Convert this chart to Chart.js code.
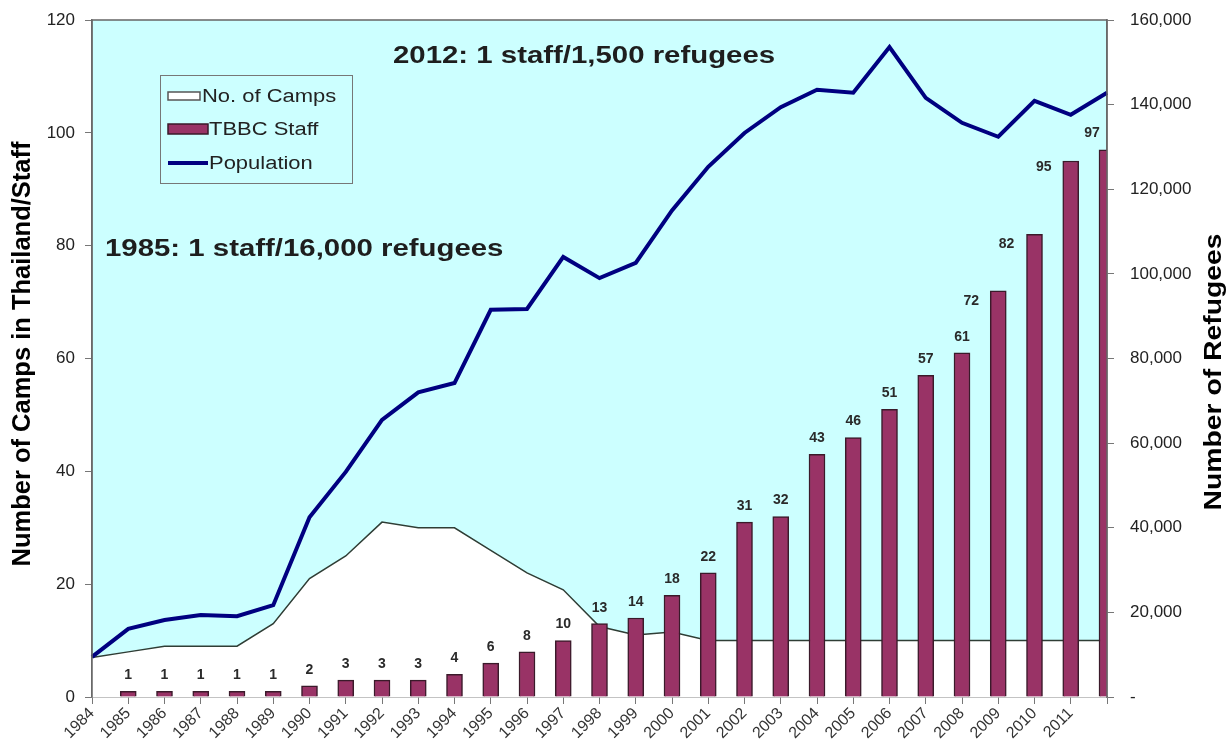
<!DOCTYPE html>
<html>
<head>
<meta charset="utf-8">
<script src="https://cdn.jsdelivr.net/npm/chart.js@4"></script>
<style>
  body { margin: 0; background: #fff; }
</style>
</head>
<body>
<canvas id="tbbc-chart" width="1229" height="747"></canvas>
<script>
var years = ["1984","1985","1986","1987","1988","1989","1990","1991","1992","1993",
             "1994","1995","1996","1997","1998","1999","2000","2001","2002","2003",
             "2004","2005","2006","2007","2008","2009","2010","2011","2012"];

// left axis
var camps = [7, 8, 9, 9, 9, 13, 21, 25, 31, 30,
             30, 26, 22, 19, 12.5, 11, 11.5, 10, 10, 10,
             10, 10, 10, 10, 10, 10, 10, 10, 10];
var staff = [null, 1, 1, 1, 1, 1, 2, 3, 3, 3,
             4, 6, 8, 10, 13, 14, 18, 22, 31, 32,
             43, 46, 51, 57, 61, 72, 82, 95, 97];

// right axis
var population = [9500, 16100, 18200, 19400, 19100, 21700, 42500, 53200, 65500, 72000,
                  74200, 91500, 91700, 104000, 99000, 102600, 115000, 125300, 133300, 139400,
                  143500, 142800, 153600, 141600, 135700, 132400, 140900, 137600, 142800];

var notes = ["2012: 1 staff/1,500 refugees", "1985: 1 staff/16,000 refugees"];

var FONT = "'Liberation Sans', Arial, sans-serif";

// text drawn a bit wide, like the original slide
function wideText(c, txt, x, y, font, sx, angle) {
    c.save();
    c.translate(x, y);
    if (angle) c.rotate(angle);
    c.scale(sx, 1);
    c.font = font;
    c.fillText(txt, 0, 0);
    c.restore();
}

// plot background + frame
var plotBg = {
    id: 'plotBg',
    beforeDraw: function(chart) {
        var a = chart.chartArea, c = chart.ctx;
        c.save();
        c.fillStyle = '#ccffff';
        c.fillRect(a.left, a.top, a.right - a.left, a.bottom - a.top);
        c.restore();
    },
    afterDraw: function(chart) {
        var a = chart.chartArea, c = chart.ctx;
        c.save();
        c.strokeStyle = '#666';
        c.lineWidth = 1.5;
        c.beginPath();
        c.moveTo(a.left, a.bottom);
        c.lineTo(a.left, a.top);
        c.lineTo(a.right, a.top);
        c.lineTo(a.right, a.bottom);
        c.stroke();
        c.restore();
    }
};

// value labels over the staff bars (a few were nudged left in the original)
var barLabels = {
    id: 'barLabels',
    afterDatasetsDraw: function(chart) {
        var nudge = { "2009": [-27, 26], "2010": [-28, 26], "2011": [-27, 22], "2012": [-15, -1] };
        var c = chart.ctx;
        var meta = chart.getDatasetMeta(1);
        c.save();
        c.font = 'bold 14px ' + FONT;
        c.fillStyle = '#2a2a2a';
        c.textAlign = 'center';
        c.textBaseline = 'middle';
        meta.data.forEach(function(bar, i) {
            var v = staff[i];
            if (v === null) return;
            var d = nudge[years[i]] || [0, 0];
            c.fillText(String(v), bar.x + d[0], bar.y - 16 + d[1]);
        });
        c.restore();
    }
};

// legend box, notes and axis titles
var extras = {
    id: 'extras',
    afterDraw: function(chart) {
        var c = chart.ctx;
        c.save();
        // legend
        c.strokeStyle = '#777';
        c.lineWidth = 1;
        c.strokeRect(160.5, 75.5, 192, 108);
        var rows = [96, 129, 163];
        chart.data.datasets.forEach(function(ds, i) {
            var y = rows[i];
            var tx = 209;
            if (i === 2) {
                c.strokeStyle = ds.borderColor;
                c.lineWidth = 4;
                c.beginPath();
                c.moveTo(168, y);
                c.lineTo(208, y);
                c.stroke();
            } else if (i === 0) {
                c.fillStyle = '#ffffff';
                c.fillRect(168, y - 4, 32, 8);
                c.strokeStyle = '#555';
                c.lineWidth = 1.5;
                c.strokeRect(168, y - 4, 32, 8);
                tx = 202;
            } else {
                c.fillStyle = ds.backgroundColor;
                c.fillRect(168, y - 5, 40, 10);
                c.strokeStyle = ds.borderColor;
                c.lineWidth = 1.5;
                c.strokeRect(168, y - 5, 40, 10);
            }
            c.fillStyle = '#222';
            c.textAlign = 'left';
            c.textBaseline = 'middle';
            wideText(c, ds.label, tx, y + 1, '18px ' + FONT, 1.22);
        });

        // notes
        c.fillStyle = '#1e1e1e';
        c.textAlign = 'left';
        c.textBaseline = 'middle';
        wideText(c, notes[0], 393, 57, 'bold 23.5px ' + FONT, 1.25);
        wideText(c, notes[1], 105, 250, 'bold 23.5px ' + FONT, 1.25);

        // axis titles
        c.fillStyle = '#000';
        c.textAlign = 'center';
        wideText(c, 'Number of Camps in Thailand/Staff', 23, 354, 'bold 25.5px ' + FONT, 1, -Math.PI / 2);
        wideText(c, 'Number of Refugees', 1214, 372, 'bold 24px ' + FONT, 1.18, -Math.PI / 2);
        c.restore();
    }
};

function fixWidth(w) {
    return function(s) {
        s.width = w;
        s.paddingTop = 0;
        s.paddingBottom = 0;
    };
}

new Chart(document.getElementById('tbbc-chart'), {
    type: 'bar',
    data: {
        labels: years,
        datasets: [
            {
                type: 'line',
                label: 'No. of Camps',
                data: camps,
                yAxisID: 'y',
                borderColor: '#2f3d35',
                borderWidth: 1.5,
                backgroundColor: '#ffffff',
                fill: 'origin',
                pointRadius: 0,
                tension: 0,
                order: 3
            },
            {
                label: 'TBBC Staff',
                data: staff,
                yAxisID: 'y',
                backgroundColor: '#993366',
                borderColor: '#3a1a2a',
                borderWidth: 1.5,
                barThickness: 16,
                order: 2
            },
            {
                type: 'line',
                label: 'Population',
                data: population,
                yAxisID: 'y1',
                borderColor: '#000080',
                borderWidth: 4,
                pointRadius: 0,
                tension: 0,
                fill: false,
                order: 1
            }
        ]
    },
    options: {
        responsive: false,
        animation: false,
        layout: { padding: { top: 20, left: 0, right: 0, bottom: 0 } },
        plugins: {
            legend: { display: false },
            tooltip: { enabled: false }
        },
        scales: {
            x: {
                offset: false,
                grid: { offset: false, drawOnChartArea: false, tickLength: 7, color: '#777' },
                border: { color: '#888', width: 1.5 },
                ticks: {
                    autoSkip: false,
                    minRotation: 45,
                    maxRotation: 45,
                    padding: 0,
                    color: '#333',
                    font: { family: FONT, size: 16 },
                    callback: function(v, i) { return i === years.length - 1 ? '' : years[i]; }
                },
                afterFit: function(s) { s.height = 50; }
            },
            y: {
                position: 'left',
                min: 0,
                max: 120,
                grid: { drawOnChartArea: false, tickLength: 7, color: '#777' },
                border: { color: '#777', width: 1.5 },
                ticks: {
                    stepSize: 20,
                    padding: 10,
                    color: '#222',
                    font: { family: FONT, size: 17 }
                },
                afterFit: fixWidth(92)
            },
            y1: {
                position: 'right',
                min: 0,
                max: 160000,
                grid: { drawOnChartArea: false, tickLength: 7, color: '#777' },
                border: { color: '#777', width: 1.5 },
                ticks: {
                    stepSize: 20000,
                    padding: 16,
                    color: '#222',
                    font: { family: FONT, size: 17 },
                    callback: function(v) { return v === 0 ? '-' : v.toLocaleString('en-US'); }
                },
                afterFit: fixWidth(122)
            }
        }
    },
    plugins: [plotBg, barLabels, extras]
});
</script>
</body>
</html>
